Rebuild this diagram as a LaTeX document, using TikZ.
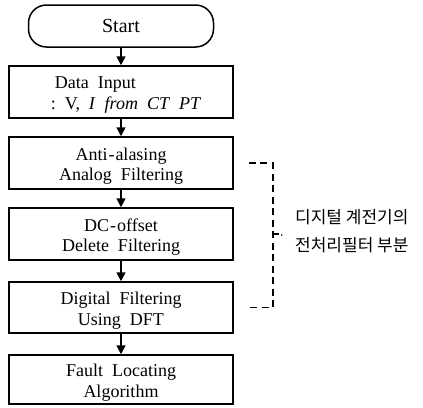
\documentclass[tikz,border=0pt]{standalone}
\usepackage{fontspec}
\setmainfont{Liberation Serif}
\newfontfamily\krfont{Noto Sans CJK KR}
\usetikzlibrary{arrows.meta}
\newcommand\wsp{\hspace{0.5em}}
\begin{document}
\begin{tikzpicture}[x=1pt,y=-1pt,
  box/.style={draw,line width=1.5pt,minimum width=224pt,inner sep=0pt},
  txt/.style={align=center,inner sep=0pt,font=\fontsize{18}{20.5}\selectfont},
  term/.style={draw,line width=1.5pt,rounded corners=18pt,minimum width=185pt,minimum height=42pt,
    font=\fontsize{20}{21}\selectfont},
  arr/.style={line width=1.6pt,-{Triangle[length=9pt,width=9pt]}},
  brk/.style={line width=1.6pt,dash pattern=on 7pt off 4.5pt}]
\useasboundingbox (0,0) rectangle (423,407);
\node[term] (start) at (121,26) {Start};
\node[box,minimum height=52pt] (data) at (121,92) {};
\node[box,minimum height=52pt] (anti) at (121,163) {};
\node[box,minimum height=52pt] (dc) at (121,234) {};
\node[box,minimum height=51pt] (dig) at (121,307.5) {};
\node[box,minimum height=49pt] (fault) at (121,379.5) {};
\node[txt,align=left] (tdata) at ([xshift=5pt,yshift=-3pt]data.center)
  {\kern4pt Data\wsp Input\\ :\wsp V,\wsp \textit{I}\wsp \textit{from}\wsp \textit{CT}\wsp \textit{PT}};
\node[txt] (tanti) at ([yshift=-3pt]anti.center) {Anti\kern1pt-\kern1pt alasing\\Analog\wsp Filtering};
\node[txt] (tdc) at ([yshift=-3pt]dc.center) {DC\kern1pt-\kern1pt offset\\Delete\wsp Filtering};
\node[txt] (tdig) at ([yshift=-3pt]dig.center) {Digital\wsp Filtering\\Using\wsp DFT};
\node[txt] (tfault) at ([yshift=-3pt]fault.center) {Fault\wsp Locating\\Algorithm};
\draw[arr] (start) -- (data);
\draw[arr] (data) -- (anti);
\draw[arr] (anti) -- (dc);
\draw[arr] (dc) -- (dig);
\draw[arr] (dig) -- (fault);
\coordinate (b1) at ([xshift=15pt]anti.east);
\coordinate (b2) at ([xshift=39pt]anti.east);
\coordinate (b3) at ([xshift=39pt]dig.east);
\coordinate (b4) at ([xshift=13pt]dig.east);
\coordinate (bm) at ([xshift=39pt]dc.east);
\coordinate (bt) at ([xshift=45pt]dc.east);
\draw[brk] (b1) -- (b2) -- (b3) -- (b4);
\draw[line width=1.6pt] (bm) -- (bt);
\fill ([xshift=48pt,yshift=-1pt]dc.east) circle (0.9pt);
\node[anchor=west,align=left,inner sep=0pt,font=\krfont\fontsize{17}{28}\selectfont] (note) at (295,231)
  {디지털 계전기의\\전처리필터 부분};
\end{tikzpicture}
\end{document}
